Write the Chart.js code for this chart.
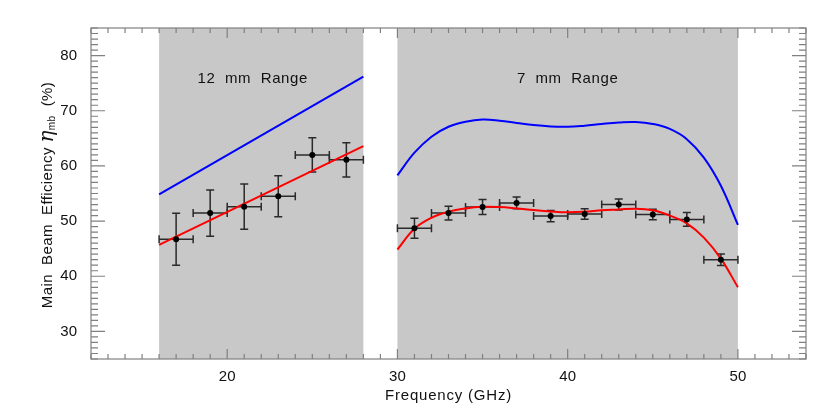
<!DOCTYPE html>
<html>
<head>
<meta charset="utf-8">
<script src="https://cdn.jsdelivr.net/npm/chart.js"></script>
<style>
  html, body { margin: 0; padding: 0; background: #fff; }
  #wrap { width: 833px; height: 417px; }
</style>
</head>
<body>
<div id="wrap"><canvas id="chart" width="833" height="417"></canvas></div>
<script>
// axis ranges and tick labels
var xMin = 12, xMax = 54;
var yMin = 25, yMax = 85;
var xTicks = [20, 30, 40, 50];
var yTicks = [30, 40, 50, 60, 70, 80];

// shaded receiver bands (GHz)
var bandStart = [16, 30];
var bandEnd = [28, 50];
var bandNames = ['12  mm  Range', '7  mm  Range'];
var bandLabelX = [21.5, 40];
var bandLabelY = 75.7;

// 12 mm model lines
var freq12 = [16, 28];
var blue12 = [54.85, 76.2];
var red12 = [45.7, 63.6];

// 7 mm model curves
var freq7 = [30, 31, 32, 33, 34, 35, 36, 37, 38, 39, 40, 41, 42, 43, 44, 45, 46, 47, 48, 49, 50];
var blue7 = [58.3, 62.4, 65.3, 67.1, 68.0, 68.4, 68.2, 67.8, 67.4, 67.15, 67.1, 67.3, 67.6, 67.85, 67.95, 67.6, 66.7, 64.85, 61.5, 56.4, 49.3];
var red7 = [44.85, 48.6, 50.6, 51.7, 52.3, 52.6, 52.55, 52.3, 52.0, 51.75, 51.6, 51.7, 51.95, 52.1, 52.25, 51.95, 51.0, 49.6, 47.0, 43.2, 38.0];

// measured efficiencies
var measFreq = [17, 19, 21, 23, 25, 27, 31, 33, 35, 37, 39, 41, 43, 45, 47, 49];
var measEff = [46.7, 51.45, 52.6, 54.5, 62.0, 61.1, 48.7, 51.45, 52.55, 53.3, 50.9, 51.3, 53.0, 51.2, 50.3, 43.0];
var measFreqErr = [1, 1, 1, 1, 1, 1, 1, 1, 1, 1, 1, 1, 1, 1, 1, 1];
var measEffErr = [4.7, 4.2, 4.1, 3.7, 3.1, 3.1, 1.8, 1.25, 1.35, 1.05, 1.0, 0.95, 1.0, 0.95, 1.25, 1.05];

function pairs(xs, ys) {
    return xs.map(function (x, i) { return { x: x, y: ys[i] } })
}

const fontFamily = '"Liberation Sans", Arial, sans-serif'

// start: bands + error bars
const bandsPlugin = {
    id: 'bands',
    beforeDatasetsDraw(chart) {
        const ctx = chart.ctx
        const x = chart.scales.x, y = chart.scales.y
        const area = chart.chartArea
        ctx.save()
        ctx.fillStyle = '#c8c8c8'
        bandStart.forEach(function (s, i) {
            const x0 = x.getPixelForValue(s)
            const x1 = x.getPixelForValue(bandEnd[i])
            ctx.fillRect(x0, area.top, x1 - x0, area.bottom - area.top)
        })
        // band titles
        ctx.fillStyle = '#111'
        ctx.font = '15px ' + fontFamily
        ctx.letterSpacing = '0.6px'
        ctx.textAlign = 'center'
        ctx.textBaseline = 'middle'
        bandNames.forEach(function (name, i) {
            ctx.fillText(name, x.getPixelForValue(bandLabelX[i]), y.getPixelForValue(bandLabelY))
        })
        ctx.restore()

        // error bars
        ctx.save()
        ctx.strokeStyle = '#2a2a2a'
        ctx.lineWidth = 1.5
        measFreq.forEach(function (f, i) {
            const px = x.getPixelForValue(f)
            const py = y.getPixelForValue(measEff[i])
            const xl = x.getPixelForValue(f - measFreqErr[i])
            const xr = x.getPixelForValue(f + measFreqErr[i])
            const yt = y.getPixelForValue(measEff[i] + measEffErr[i])
            const yb = y.getPixelForValue(measEff[i] - measEffErr[i])
            ctx.beginPath()
            ctx.moveTo(xl, py); ctx.lineTo(xr, py)
            ctx.moveTo(xl, py - 4); ctx.lineTo(xl, py + 4)
            ctx.moveTo(xr, py - 4); ctx.lineTo(xr, py + 4)
            ctx.moveTo(px, yt); ctx.lineTo(px, yb)
            ctx.moveTo(px - 4, yt); ctx.lineTo(px + 4, yt)
            ctx.moveTo(px - 4, yb); ctx.lineTo(px + 4, yb)
            ctx.stroke()
        })
        ctx.restore()
    }
}
// end: bands

// start: frame with inward ticks and axis titles
const framePlugin = {
    id: 'frame',
    afterDatasetsDraw(chart) {
        const ctx = chart.ctx
        const x = chart.scales.x, y = chart.scales.y
        const a = chart.chartArea
        ctx.save()
        ctx.strokeStyle = '#808080'
        ctx.lineWidth = 1.2
        ctx.strokeRect(a.left, a.top, a.right - a.left, a.bottom - a.top)
        ctx.beginPath()
        for (let v = xMin; v <= xMax; v++) {
            const px = x.getPixelForValue(v)
            const len = xTicks.indexOf(v) >= 0 ? 10 : 5
            ctx.moveTo(px, a.bottom); ctx.lineTo(px, a.bottom - len)
            ctx.moveTo(px, a.top); ctx.lineTo(px, a.top + len)
        }
        for (let v = yMin; v <= yMax; v++) {
            const py = y.getPixelForValue(v)
            const len = yTicks.indexOf(v) >= 0 ? 14 : 7
            ctx.moveTo(a.left, py); ctx.lineTo(a.left + len, py)
            ctx.moveTo(a.right, py); ctx.lineTo(a.right - len, py)
        }
        ctx.stroke()
        ctx.restore()

        // x title
        ctx.save()
        ctx.fillStyle = '#111'
        ctx.font = '15px ' + fontFamily
        ctx.letterSpacing = '0.8px'
        ctx.textAlign = 'center'
        ctx.textBaseline = 'middle'
        ctx.fillText('Frequency (GHz)', (a.left + a.right) / 2, 396)
        ctx.restore()

        // y title with eta_mb
        ctx.save()
        ctx.translate(48, 195)
        ctx.rotate(-Math.PI / 2)
        ctx.fillStyle = '#111'
        ctx.textBaseline = 'middle'
        ctx.textAlign = 'left'
        ctx.letterSpacing = '0.4px'
        const parts = [
            { t: 'Main  Beam  Efficiency ', f: '15px ' + fontFamily, dy: 0 },
            { t: 'η', f: 'italic 20px "DejaVu Serif", serif', dy: 0 },
            { t: 'mb', f: '10px ' + fontFamily, dy: 4 },
            { t: '  (%)', f: '15px ' + fontFamily, dy: 0 }
        ]
        let total = 0
        parts.forEach(function (p) { ctx.font = p.f; p.w = ctx.measureText(p.t).width; total += p.w })
        let cx = -total / 2
        parts.forEach(function (p) {
            ctx.font = p.f
            ctx.fillText(p.t, cx, p.dy)
            cx += p.w
        })
        ctx.restore()
    }
}
// end: frame

new Chart(document.getElementById('chart'), {
    type: 'line',
    data: {
        datasets: [
            {
                type: 'scatter',
                data: pairs(measFreq, measEff),
                pointRadius: 3,
                pointBackgroundColor: '#000',
                pointBorderWidth: 0,
                order: 0
            },
            {
                data: pairs(freq12, blue12),
                borderColor: '#0000ff',
                borderWidth: 2,
                pointRadius: 0,
                order: 1
            },
            {
                data: pairs(freq12, red12),
                borderColor: '#ff0000',
                borderWidth: 2,
                pointRadius: 0,
                order: 1
            },
            {
                data: pairs(freq7, blue7),
                borderColor: '#0000ff',
                borderWidth: 2,
                pointRadius: 0,
                tension: 0.4,
                order: 1
            },
            {
                data: pairs(freq7, red7),
                borderColor: '#ff0000',
                borderWidth: 2,
                pointRadius: 0,
                tension: 0.4,
                order: 1
            }
        ]
    },
    options: {
        responsive: false,
        animation: false,
        layout: { padding: { left: 0, right: 27, top: 28, bottom: 0 } },
        plugins: {
            legend: { display: false },
            tooltip: { enabled: false }
        },
        scales: {
            x: {
                type: 'linear',
                min: xMin,
                max: xMax,
                grid: { display: false },
                border: { display: false },
                afterBuildTicks: function (axis) { axis.ticks = xTicks.map(function (v) { return { value: v } }) },
                afterFit: function (axis) { axis.height = 58 },
                ticks: { color: '#111', padding: 1, maxRotation: 0, font: { size: 15, family: fontFamily } }
            },
            y: {
                type: 'linear',
                min: yMin,
                max: yMax,
                grid: { display: false },
                border: { display: false },
                afterBuildTicks: function (axis) { axis.ticks = yTicks.map(function (v) { return { value: v } }) },
                afterFit: function (axis) { axis.width = 91 },
                ticks: { color: '#111', padding: 6, font: { size: 15, family: fontFamily } }
            }
        }
    },
    plugins: [bandsPlugin, framePlugin]
});
</script>
</body>
</html>
